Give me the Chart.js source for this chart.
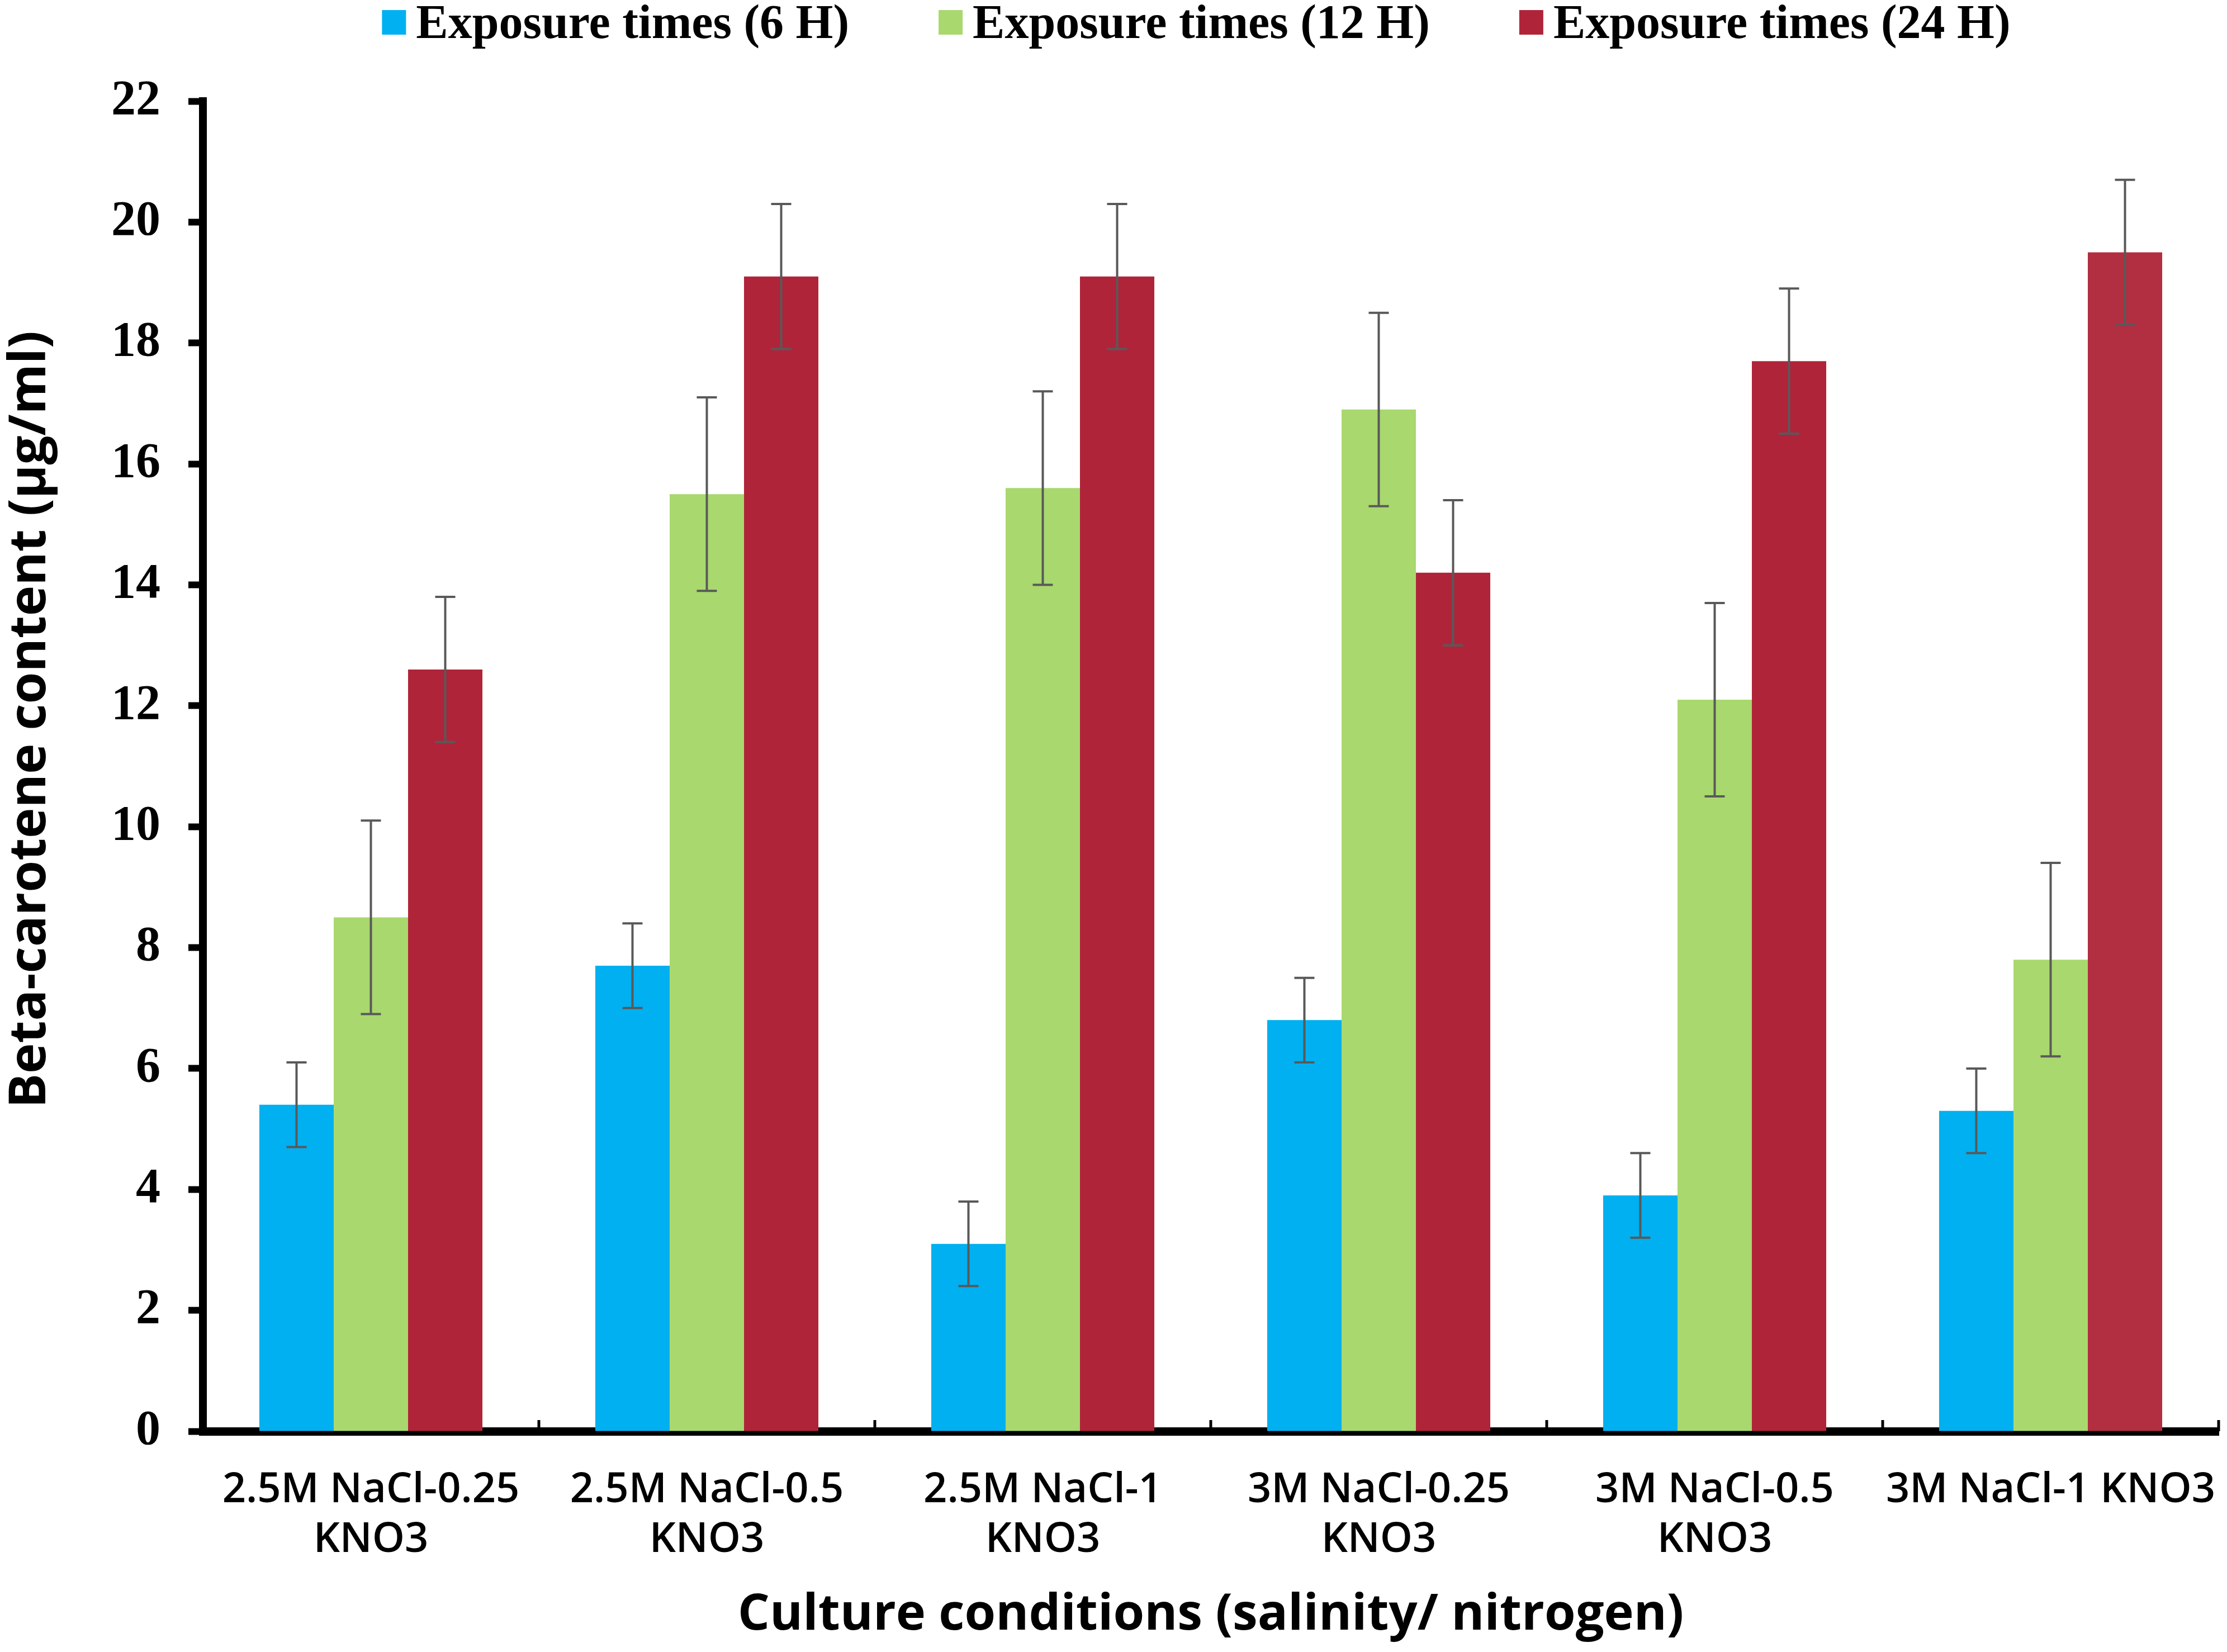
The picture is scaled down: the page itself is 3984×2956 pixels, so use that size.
<!DOCTYPE html>
<html>
<head>
<meta charset="utf-8">
<script src="https://cdn.jsdelivr.net/npm/chart.js@4.4.1/dist/chart.umd.min.js"></script>
<style>
  html, body { margin: 0; padding: 0; background: #fff; }
  canvas { display: block; }
</style>
</head>
<body>
<canvas id="betaChart" width="3984" height="2956"></canvas>
<script>
// culture conditions on the x axis
const conditions = [
  ['2.5M NaCl-0.25', 'KNO3'],
  ['2.5M NaCl-0.5', 'KNO3'],
  ['2.5M NaCl-1', 'KNO3'],
  ['3M NaCl-0.25', 'KNO3'],
  ['3M NaCl-0.5', 'KNO3'],
  '3M NaCl-1 KNO3'
];

const seriesNames = ['Exposure times (6 H)', 'Exposure times (12 H)', 'Exposure times (24 H)'];

// beta-carotene content (ug/ml)
const values6h = [5.4, 7.7, 3.1, 6.8, 3.9, 5.3];
const values12h = [8.5, 15.5, 15.6, 16.9, 12.1, 7.8];
const values24h = [12.6, 19.1, 19.1, 14.2, 17.7, 19.5];

// error bar half lengths
const err6h = [0.7, 0.7, 0.7, 0.7, 0.7, 0.7];
const err12h = [1.6, 1.6, 1.6, 1.6, 1.6, 1.6];
const err24h = [1.2, 1.2, 1.2, 1.2, 1.2, 1.2];

const yTicks = [0, 2, 4, 6, 8, 10, 12, 14, 16, 18, 20, 22];

const colors = ['#00B0F0', '#A9D86E', '#B0243A'];
// the last red bar is a touch lighter in the original
const redShades = ['#B0243A', '#B0243A', '#B0243A', '#B0243A', '#B0243A', '#B22E41'];
const errors = [err6h, err12h, err24h];

const legendFont = 'bold 86px "Liberation Serif", "Times New Roman", serif';

// error bars drawn on top of the bars
const errorBarPlugin = {
  id: 'errorBars',
  afterDatasetsDraw(chart) {
    const ctx = chart.ctx;
    const y = chart.scales.y;
    ctx.save();
    ctx.strokeStyle = '#595959';
    ctx.lineWidth = 4;
    chart.data.datasets.forEach((ds, di) => {
      const meta = chart.getDatasetMeta(di);
      meta.data.forEach((bar, i) => {
        const v = ds.data[i];
        const e = errors[di][i];
        const top = y.getPixelForValue(v + e);
        const bot = y.getPixelForValue(v - e);
        ctx.beginPath();
        ctx.moveTo(bar.x, top);
        ctx.lineTo(bar.x, bot);
        ctx.moveTo(bar.x - 18, top);
        ctx.lineTo(bar.x + 18, top);
        ctx.moveTo(bar.x - 18, bot);
        ctx.lineTo(bar.x + 18, bot);
        ctx.stroke();
      });
    });
    ctx.restore();
  }
};

// small inward tick marks between categories on the x axis
const innerTicksPlugin = {
  id: 'innerTicks',
  afterDraw(chart) {
    const ctx = chart.ctx;
    const x = chart.scales.x;
    const bottom = chart.chartArea.bottom;
    ctx.save();
    ctx.strokeStyle = '#000';
    ctx.lineWidth = 5;
    for (let i = 0; i < conditions.length; i++) {
      const px = x.getPixelForValue(i + 0.5);
      ctx.beginPath();
      ctx.moveTo(px, bottom);
      ctx.lineTo(px, bottom - 20);
      ctx.stroke();
    }
    ctx.restore();
  }
};

// legend row at the top, laid out like the original figure
const topLegend = {
  id: 'topLegend',
  afterDraw(chart) {
    const ctx = chart.ctx;
    const box = 43, gap = 18, itemGap = 160, centerX = 2140, baseline = 68;
    ctx.save();
    ctx.font = legendFont;
    ctx.textBaseline = 'alphabetic';
    const widths = chart.data.datasets.map(ds => ctx.measureText(ds.label).width);
    const total = widths.reduce((a, w) => a + box + gap + w, 0) + itemGap * (widths.length - 1);
    let x = centerX - total / 2;
    chart.data.datasets.forEach((ds, i) => {
      ctx.fillStyle = colors[i];
      ctx.fillRect(x, 18, box, 44);
      ctx.fillStyle = '#000';
      ctx.fillText(ds.label, x + box + gap, baseline);
      x += box + gap + widths[i] + itemGap;
    });
    ctx.restore();
  }
};

const ctx = document.getElementById('betaChart').getContext('2d');
const betaChart = new Chart(ctx, {
  type: 'bar',
  data: {
    labels: conditions,
    datasets: [
      { label: seriesNames[0], data: values6h, backgroundColor: colors[0] },
      { label: seriesNames[1], data: values12h, backgroundColor: colors[1] },
      { label: seriesNames[2], data: values24h, backgroundColor: redShades }
    ]
  },
  options: {
    responsive: false,
    animation: false,
    devicePixelRatio: 1,
    categoryPercentage: 0.664,
    barPercentage: 1.0,
    layout: { padding: { top: 181, right: 15, left: 0, bottom: 0 } },
    plugins: {
      tooltip: { enabled: false },
      legend: { display: false }
    },
    scales: {
      x: {
        offset: true,
        grid: { display: false, drawTicks: false },
        border: { display: true, color: '#000', width: 15 },
        ticks: {
          color: '#000',
          padding: 62,
          maxRotation: 0,
          autoSkip: false,
          font: { family: '"Open Sans", sans-serif', weight: '600', size: 74, lineHeight: 1.2 }
        },
        title: {
          display: true,
          text: 'Culture conditions (salinity/ nitrogen)',
          color: '#000',
          padding: { top: 16, bottom: 12 },
          font: { family: '"Open Sans", sans-serif', weight: 'bold', size: 90 }
        },
        afterFit(scale) {
          scale.height = 2956 - 2561;
          // let the last label overhang instead of shrinking the plot
          scale.paddingRight = 0;
        }
      },
      y: {
        min: 0,
        max: 22,
        afterBuildTicks(scale) { scale.ticks = yTicks.map(v => ({ value: v })); },
        grid: {
          drawOnChartArea: false,
          drawTicks: true,
          tickLength: 26,
          tickWidth: 12,
          tickColor: '#000'
        },
        border: { display: true, color: '#000', width: 14 },
        ticks: {
          color: '#000',
          padding: 50,
          font: { family: '"Liberation Serif", "Times New Roman", serif', weight: 'bold', size: 88 }
        },
        title: {
          display: true,
          // leading spaces push the centred title upward as in the original
          text: '       Beta-carotene content (µg/ml)',
          color: '#000',
          padding: { top: 0, bottom: 0 },
          font: { family: '"Open Sans", sans-serif', weight: 'bold', size: 92 }
        },
        afterFit(scale) { scale.width = 363; }
      }
    }
  },
  plugins: [errorBarPlugin, innerTicksPlugin, topLegend]
});
</script>
</body>
</html>
